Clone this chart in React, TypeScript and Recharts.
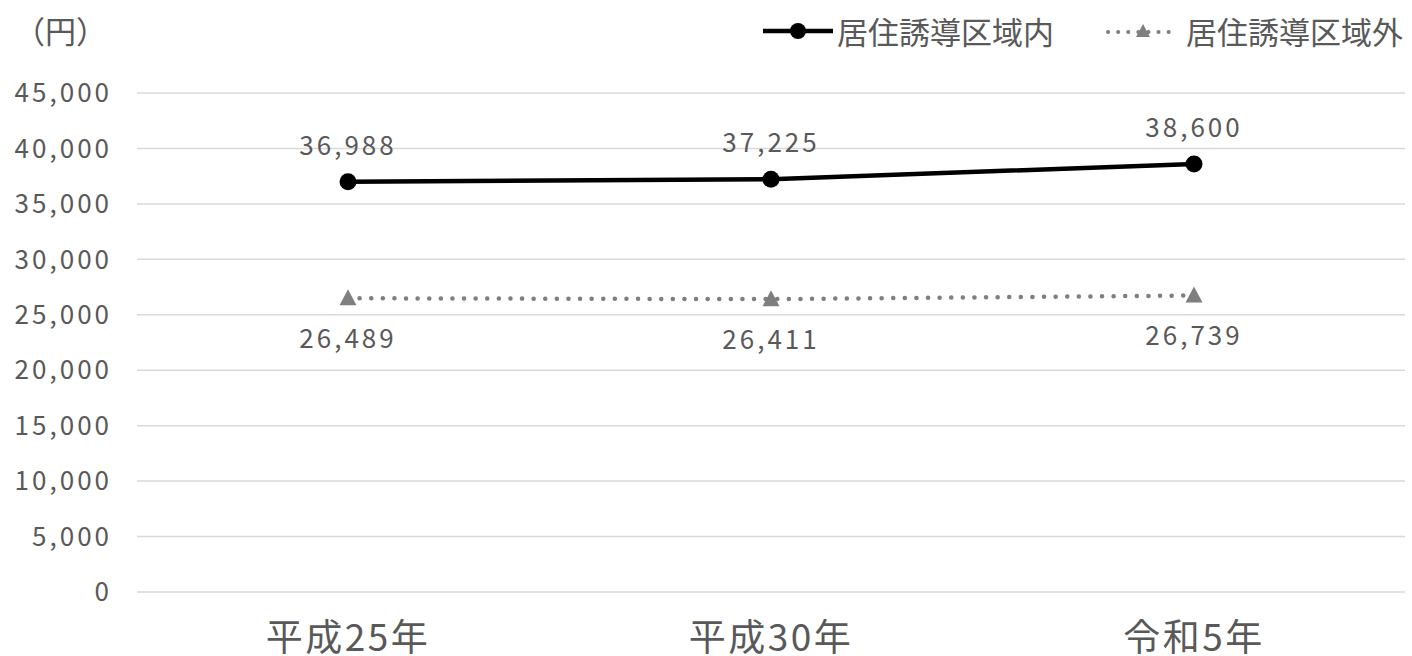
import React from "react";
import { LineChart, Line, XAxis, YAxis, CartesianGrid, LabelList } from "recharts";

const categories = ["平成25年", "平成30年", "令和5年"];
const insideValues = [36988, 37225, 38600];
const outsideValues = [26489, 26411, 26739];
const yTicks = [0, 5000, 10000, 15000, 20000, 25000, 30000, 35000, 40000, 45000];
const seriesNames = ["居住誘導区域内", "居住誘導区域外"];
const unitLabel = "（円）";

const data = categories.map((c, i) => ({ name: c, inside: insideValues[i], outside: outsideValues[i] }));

const FONT = "'Noto Sans CJK JP', 'Noto Sans', sans-serif";
const TEXT = "#595959";

const fmt = (v: number) => v.toLocaleString("en-US");

const Triangle = (props: any) => {
  const { cx, cy } = props;
  if (cx == null || cy == null) return null;
  return <path d={`M${cx} ${cy - 9} L${cx + 8.5} ${cy + 7} L${cx - 8.5} ${cy + 7} Z`} fill="#7f7f7f" />;
};

const LegendBlock = () => (
  <div style={{ position: "absolute", left: 763, top: 8, display: "flex", alignItems: "center", fontFamily: FONT, fontSize: 31, color: TEXT, whiteSpace: "nowrap" }}>
    <svg width={70} height={20} style={{ display: "block" }}>
      <line x1={0} y1={10} x2={70} y2={10} stroke="#000" strokeWidth={4.5} />
      <circle cx={35} cy={10} r={8} fill="#000" />
    </svg>
    <span style={{ marginLeft: 4 }}>{seriesNames[0]}</span>
    <svg width={68} height={20} style={{ display: "block", marginLeft: 52 }}>
      <line x1={2} y1={11} x2={66} y2={11} stroke="#7f7f7f" strokeWidth={4} strokeDasharray="0.1 10" strokeLinecap="round" />
      <path d="M37 3 L44 16 L30 16 Z" fill="#7f7f7f" />
    </svg>
    <span style={{ marginLeft: 12 }}>{seriesNames[1]}</span>
  </div>
);

export default function App() {
  return (
    <div style={{ position: "absolute", left: 0, top: 0, width: 1412, height: 656, background: "#fff" }}>
      <LineChart width={1412} height={656} data={data} margin={{ top: 93, right: 7, bottom: 0, left: 0 }}>
        <CartesianGrid vertical={false} stroke="#d9d9d9" strokeWidth={1.5} />
        <XAxis
          dataKey="name"
          axisLine={false}
          tickLine={false}
          padding={{ left: 211, right: 211 }}
          tickMargin={27}
          tick={{ fill: TEXT, fontSize: 37, fontFamily: FONT, letterSpacing: 2.5 }}
          height={64}
        />
        <YAxis
          domain={[0, 45000]}
          ticks={yTicks}
          axisLine={false}
          tickLine={false}
          width={137}
          tickMargin={19}
          tickFormatter={fmt}
          tick={{ fill: TEXT, fontSize: 26, fontFamily: FONT, letterSpacing: 3 }}
        />
        <Line
          dataKey="inside"
          name={seriesNames[0]}
          stroke="#000"
          strokeWidth={4.5}
          dot={{ r: 8.5, fill: "#000", stroke: "#000", strokeWidth: 0 }}
          isAnimationActive={false}
        >
          <LabelList dataKey="inside" position="top" offset={27} formatter={(v: any) => fmt(v)} style={{ fill: TEXT, fontSize: 26, fontFamily: FONT, letterSpacing: 3 }} />
        </Line>
        <Line
          dataKey="outside"
          name={seriesNames[1]}
          stroke="#7f7f7f"
          strokeWidth={4.5}
          strokeDasharray="0.1 11.5"
          strokeLinecap="round"
          dot={<Triangle />}
          isAnimationActive={false}
        >
          <LabelList dataKey="outside" position="bottom" offset={31} formatter={(v: any) => fmt(v)} style={{ fill: TEXT, fontSize: 26, fontFamily: FONT, letterSpacing: 3 }} />
        </Line>
      </LineChart>
      <div style={{ position: "absolute", left: 14, top: 7, fontFamily: FONT, fontSize: 31, color: TEXT }}>{unitLabel}</div>
      <LegendBlock />
    </div>
  );
}
